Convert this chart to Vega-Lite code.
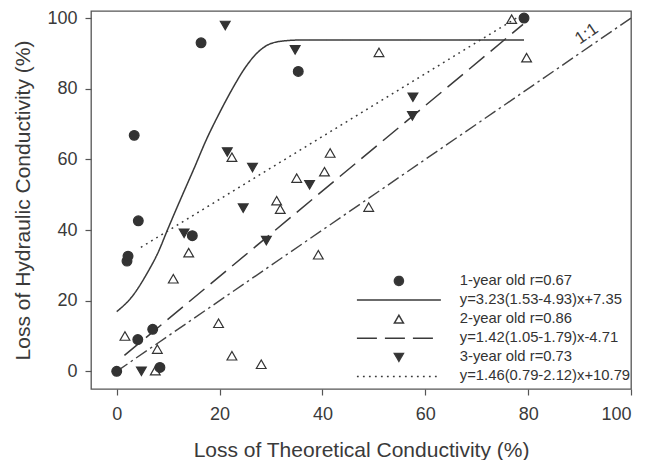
{
  "$schema": "https://vega.github.io/schema/vega-lite/v6.json",
  "width": 540,
  "height": 378,
  "autosize": {"type": "none"},
  "padding": {"left": 91, "top": 11, "right": 28, "bottom": 71},
  "background": "white",
  "config": {
    "font": "Liberation Sans",
    "view": {"stroke": "#555555", "strokeWidth": 1.3},
    "axis": {
      "grid": false, "domain": false,
      "tickColor": "#555555", "tickSize": 6, "tickWidth": 1.2,
      "labelFontSize": 18, "labelColor": "#3a3a3a", "labelFont": "Liberation Sans",
      "titleFontSize": 21, "titleFontWeight": "normal", "titleColor": "#3a3a3a", "titleFont": "Liberation Sans"
    }
  },
  "datasets": {
    "points": [
      {"series": "1-year old r=0.67", "x": 0, "y": 0},
      {"series": "1-year old r=0.67", "x": 2.0, "y": 31.2},
      {"series": "1-year old r=0.67", "x": 2.2, "y": 32.6},
      {"series": "1-year old r=0.67", "x": 3.4, "y": 66.8},
      {"series": "1-year old r=0.67", "x": 4.2, "y": 42.6},
      {"series": "1-year old r=0.67", "x": 4.1, "y": 9.0},
      {"series": "1-year old r=0.67", "x": 7.0, "y": 11.9},
      {"series": "1-year old r=0.67", "x": 8.4, "y": 1.1},
      {"series": "1-year old r=0.67", "x": 14.7, "y": 38.4},
      {"series": "1-year old r=0.67", "x": 16.4, "y": 93.0},
      {"series": "1-year old r=0.67", "x": 35.3, "y": 84.9},
      {"series": "1-year old r=0.67", "x": 79.2, "y": 100.0},
      {"series": "2-year old r=0.86", "x": 1.6, "y": 10.0},
      {"series": "2-year old r=0.86", "x": 7.5, "y": 0.2},
      {"series": "2-year old r=0.86", "x": 7.9, "y": 6.3},
      {"series": "2-year old r=0.86", "x": 11.0, "y": 26.2},
      {"series": "2-year old r=0.86", "x": 14.0, "y": 33.6},
      {"series": "2-year old r=0.86", "x": 19.8, "y": 13.6},
      {"series": "2-year old r=0.86", "x": 22.4, "y": 60.6},
      {"series": "2-year old r=0.86", "x": 22.4, "y": 4.4},
      {"series": "2-year old r=0.86", "x": 28.1, "y": 2.0},
      {"series": "2-year old r=0.86", "x": 31.1, "y": 48.3},
      {"series": "2-year old r=0.86", "x": 31.8, "y": 45.9},
      {"series": "2-year old r=0.86", "x": 35.0, "y": 54.7},
      {"series": "2-year old r=0.86", "x": 39.2, "y": 33.0},
      {"series": "2-year old r=0.86", "x": 40.4, "y": 56.5},
      {"series": "2-year old r=0.86", "x": 41.5, "y": 61.8},
      {"series": "2-year old r=0.86", "x": 49.0, "y": 46.5},
      {"series": "2-year old r=0.86", "x": 51.0, "y": 90.3},
      {"series": "2-year old r=0.86", "x": 76.8, "y": 99.7},
      {"series": "2-year old r=0.86", "x": 79.7, "y": 88.8},
      {"series": "3-year old r=0.73", "x": 4.8, "y": 0.0},
      {"series": "3-year old r=0.73", "x": 13.1, "y": 39.1},
      {"series": "3-year old r=0.73", "x": 21.1, "y": 97.9},
      {"series": "3-year old r=0.73", "x": 21.5, "y": 62.1},
      {"series": "3-year old r=0.73", "x": 24.6, "y": 46.2},
      {"series": "3-year old r=0.73", "x": 26.4, "y": 57.7},
      {"series": "3-year old r=0.73", "x": 29.1, "y": 37.0},
      {"series": "3-year old r=0.73", "x": 34.7, "y": 91.0},
      {"series": "3-year old r=0.73", "x": 37.5, "y": 52.8},
      {"series": "3-year old r=0.73", "x": 57.6, "y": 77.6},
      {"series": "3-year old r=0.73", "x": 57.5, "y": 72.3}
    ],
    "curves": [
      {"series": "y=3.23(1.53-4.93)x+7.35", "x": 0, "y": 16.9},
      {"series": "y=3.23(1.53-4.93)x+7.35", "x": 3, "y": 21.2},
      {"series": "y=3.23(1.53-4.93)x+7.35", "x": 6, "y": 28.0},
      {"series": "y=3.23(1.53-4.93)x+7.35", "x": 8, "y": 33.5},
      {"series": "y=3.23(1.53-4.93)x+7.35", "x": 10, "y": 40.5},
      {"series": "y=3.23(1.53-4.93)x+7.35", "x": 12.5, "y": 49.0},
      {"series": "y=3.23(1.53-4.93)x+7.35", "x": 15, "y": 57.3},
      {"series": "y=3.23(1.53-4.93)x+7.35", "x": 17.5, "y": 65.8},
      {"series": "y=3.23(1.53-4.93)x+7.35", "x": 20, "y": 73.2},
      {"series": "y=3.23(1.53-4.93)x+7.35", "x": 22.5, "y": 80.0},
      {"series": "y=3.23(1.53-4.93)x+7.35", "x": 25, "y": 86.0},
      {"series": "y=3.23(1.53-4.93)x+7.35", "x": 27.5, "y": 90.4},
      {"series": "y=3.23(1.53-4.93)x+7.35", "x": 30, "y": 92.8},
      {"series": "y=3.23(1.53-4.93)x+7.35", "x": 33, "y": 93.6},
      {"series": "y=3.23(1.53-4.93)x+7.35", "x": 36, "y": 93.8},
      {"series": "y=3.23(1.53-4.93)x+7.35", "x": 79.2, "y": 93.8},
      {"series": "y=1.42(1.05-1.79)x-4.71", "x": 1.5, "y": 4.5},
      {"series": "y=1.42(1.05-1.79)x-4.71", "x": 79, "y": 98.2},
      {"series": "y=1.46(0.79-2.12)x+10.79", "x": 4.7, "y": 35.1},
      {"series": "y=1.46(0.79-2.12)x+10.79", "x": 78.5, "y": 100.7}
    ],
    "oneToOne": [
      {"x": 0, "y": 0},
      {"x": 100, "y": 100}
    ],
    "note": [
      {"x": 91.4, "y": 95.5, "label": "1:1"}
    ]
  },
  "layer": [
    {
      "data": {"name": "oneToOne"},
      "mark": {"type": "line", "stroke": "#444444", "strokeWidth": 1.4, "strokeDash": [13, 4, 2.5, 4]},
      "encoding": {
        "x": {"field": "x", "type": "quantitative", "scale": {"domain": [-5, 100], "nice": false, "zero": false},
              "axis": {"values": [0, 20, 40, 60, 80, 100], "title": "Loss of Theoretical Conductivity (%)", "labelPadding": 10, "titlePadding": 16}},
        "y": {"field": "y", "type": "quantitative", "scale": {"domain": [-5, 102], "nice": false, "zero": false},
              "axis": {"values": [0, 20, 40, 60, 80, 100], "title": "Loss of Hydraulic Conductivity (%)", "labelPadding": 8, "titlePadding": 13}}
      }
    },
    {
      "data": {"name": "note"},
      "mark": {"type": "text", "angle": -34.5, "fontSize": 17, "color": "#3a3a3a", "align": "center", "baseline": "middle"},
      "encoding": {
        "x": {"field": "x", "type": "quantitative"},
        "y": {"field": "y", "type": "quantitative"},
        "text": {"field": "label"}
      }
    },
    {
      "data": {"name": "curves"},
      "mark": {"type": "line", "stroke": "#3a3a3a", "strokeWidth": 1.5, "interpolate": "monotone"},
      "encoding": {
        "x": {"field": "x", "type": "quantitative"},
        "y": {"field": "y", "type": "quantitative"},
        "strokeDash": {
          "field": "series", "type": "nominal",
          "scale": {
            "domain": ["1-year old r=0.67", "y=3.23(1.53-4.93)x+7.35", "2-year old r=0.86", "y=1.42(1.05-1.79)x-4.71", "3-year old r=0.73", "y=1.46(0.79-2.12)x+10.79"],
            "range": [[1, 0], [1, 0], [1, 0], [20, 8], [1, 0], [1.8, 4.2]]
          }
        }
      }
    },
    {
      "data": {"name": "points"},
      "mark": {"type": "point", "stroke": "#333333", "strokeWidth": 1.2, "size": 95, "opacity": 1},
      "encoding": {
        "x": {"field": "x", "type": "quantitative"},
        "y": {"field": "y", "type": "quantitative"},
        "fill": {
          "field": "series", "type": "nominal",
          "scale": {
            "domain": ["1-year old r=0.67", "y=3.23(1.53-4.93)x+7.35", "2-year old r=0.86", "y=1.42(1.05-1.79)x-4.71", "3-year old r=0.73", "y=1.46(0.79-2.12)x+10.79"],
            "range": ["#333333", "transparent", "transparent", "transparent", "#333333", "transparent"]
          }
        },
        "shape": {
          "field": "series", "type": "nominal",
          "scale": {
            "domain": ["1-year old r=0.67", "y=3.23(1.53-4.93)x+7.35", "2-year old r=0.86", "y=1.42(1.05-1.79)x-4.71", "3-year old r=0.73", "y=1.46(0.79-2.12)x+10.79"],
            "range": ["circle", "M-9.33,0H9.33", "triangle-up", "M-9.33,0H7.56", "triangle-down", "M-9.33,0H8.44"]
          },
          "legend": {
            "title": null,
            "orient": "none",
            "legendX": 300.5,
            "legendY": 262.5,
            "padding": 0,
            "symbolSize": 81,
            "labelFontSize": 14.8,
            "labelColor": "#333333",
            "labelFont": "Liberation Sans",
            "labelLimit": 400,
            "labelOffset": 53.5,
            "rowPadding": 3.1,
            "encode": {
              "symbols": {
                "update": {
                  "fill": {"scale": "fill", "field": "value"},
                  "stroke": {"value": "#333333"},
                  "strokeWidth": {"value": 1.3},
                  "strokeDash": {"scale": "strokeDash", "field": "value"},
                  "opacity": {"value": 1}
                }
              }
            }
          }
        }
      }
    }
  ]
}
